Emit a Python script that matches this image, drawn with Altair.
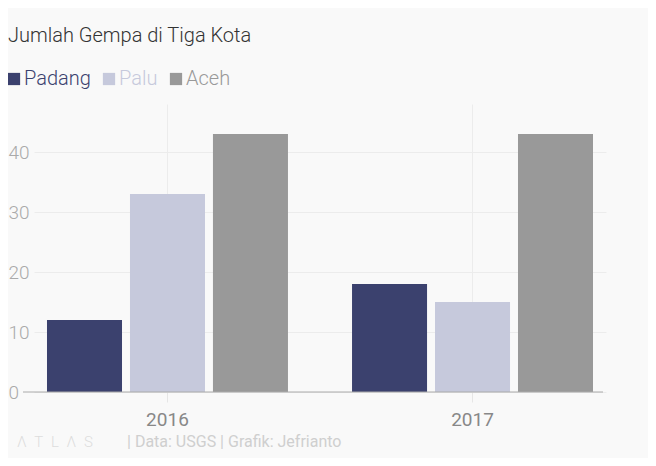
import altair as alt
import pandas as pd

# ---- data ----
years = ["2016", "2016", "2016", "2017", "2017", "2017"]
cities = ["Padang", "Palu", "Aceh", "Padang", "Palu", "Aceh"]
counts = [12, 33, 43, 18, 15, 43]
city_order = ["Padang", "Palu", "Aceh"]
city_colors = ["#3b416e", "#c6c9dc", "#999999"]
y_ticks = [0, 10, 20, 30, 40]
title_text = "Jumlah Gempa di Tiga Kota"
source_text = "| Data: USGS | Grafik: Jefrianto"
logo_text = "Λ\u2002T\u2002L\u2002Λ\u2002S"

df = pd.DataFrame({"year": years, "city": cities, "count": counts})
FONT = "Roboto"

label_color_expr = (
    "datum.value == 'Padang' ? '#3b416e' : "
    "(datum.value == 'Palu' ? '#c6c9dc' : '#999999')"
)

bars = alt.Chart(df).mark_bar().encode(
    x=alt.X(
        "year:N",
        scale=alt.Scale(paddingInner=0.21, paddingOuter=0.0426),
        axis=alt.Axis(
            title=None, labelAngle=0, domain=False, grid=True,
            gridColor="#ececec", tickColor="#e6e6e6", tickSize=10,
            labelFontSize=19, labelColor="#888888", labelPadding=8,
            labelFont=FONT,
        ),
    ),
    xOffset=alt.XOffset(
        "city:N", sort=city_order,
        scale=alt.Scale(paddingInner=0.096, paddingOuter=0),
    ),
    y=alt.Y(
        "count:Q",
        scale=alt.Scale(domain=[0, 48], nice=False),
        axis=alt.Axis(
            title=None, values=y_ticks, ticks=False, domain=False,
            grid=True, gridColor="#ececec", labelAlign="left",
            labelBaseline="middle", labelPadding=26, labelFontSize=19,
            labelColor="#aaaaaa", labelFont=FONT, labelFontWeight=300,
        ),
    ),
    color=alt.Color(
        "city:N", sort=city_order,
        scale=alt.Scale(domain=city_order, range=city_colors),
        legend=alt.Legend(
            title=None, orient="none", legendX=-30, legendY=-35,
            direction="horizontal", symbolType="square", symbolSize=150,
            symbolStrokeWidth=0, labelFontSize=20, labelFont=FONT,
            labelFontWeight=300,
            labelColor={"expr": label_color_expr}, columnPadding=8,
            labelOffset=0,
        ),
    ),
)

zero_line = alt.Chart(pd.DataFrame({"z": [0]})).mark_rule(
    color="#aaaaaa", strokeWidth=1
).encode(x=alt.value(-11), x2=alt.value(569), y=alt.datum(0))

logo = alt.Chart(pd.DataFrame({"t": [logo_text]})).mark_text(
    align="left", baseline="middle", fontSize=15, color="#dddddd", font=FONT,
    fontWeight=300,
).encode(text="t:N", x=alt.value(-17), y=alt.value(338))

source = alt.Chart(pd.DataFrame({"t": [source_text]})).mark_text(
    align="left", baseline="middle", fontSize=16, color="#cfcfcf", font=FONT
).encode(text="t:N", x=alt.value(93), y=alt.value(338))

chart = alt.layer(bars, zero_line, logo, source).properties(
    width=572,
    height=288,
    autosize=alt.AutoSizeParams(type="none"),
    padding={"left": 26, "top": 96, "right": 42, "bottom": 66},
    background="#f9f9f9",
    title=alt.TitleParams(
        title_text, anchor="start", frame="group", dx=-26, offset=23,
        fontSize=20, font=FONT, fontWeight=300, color="#333333",
    ),
).configure_view(stroke=None)

chart.save("out.html", embed_options={"renderer": "svg", "actions": False})
